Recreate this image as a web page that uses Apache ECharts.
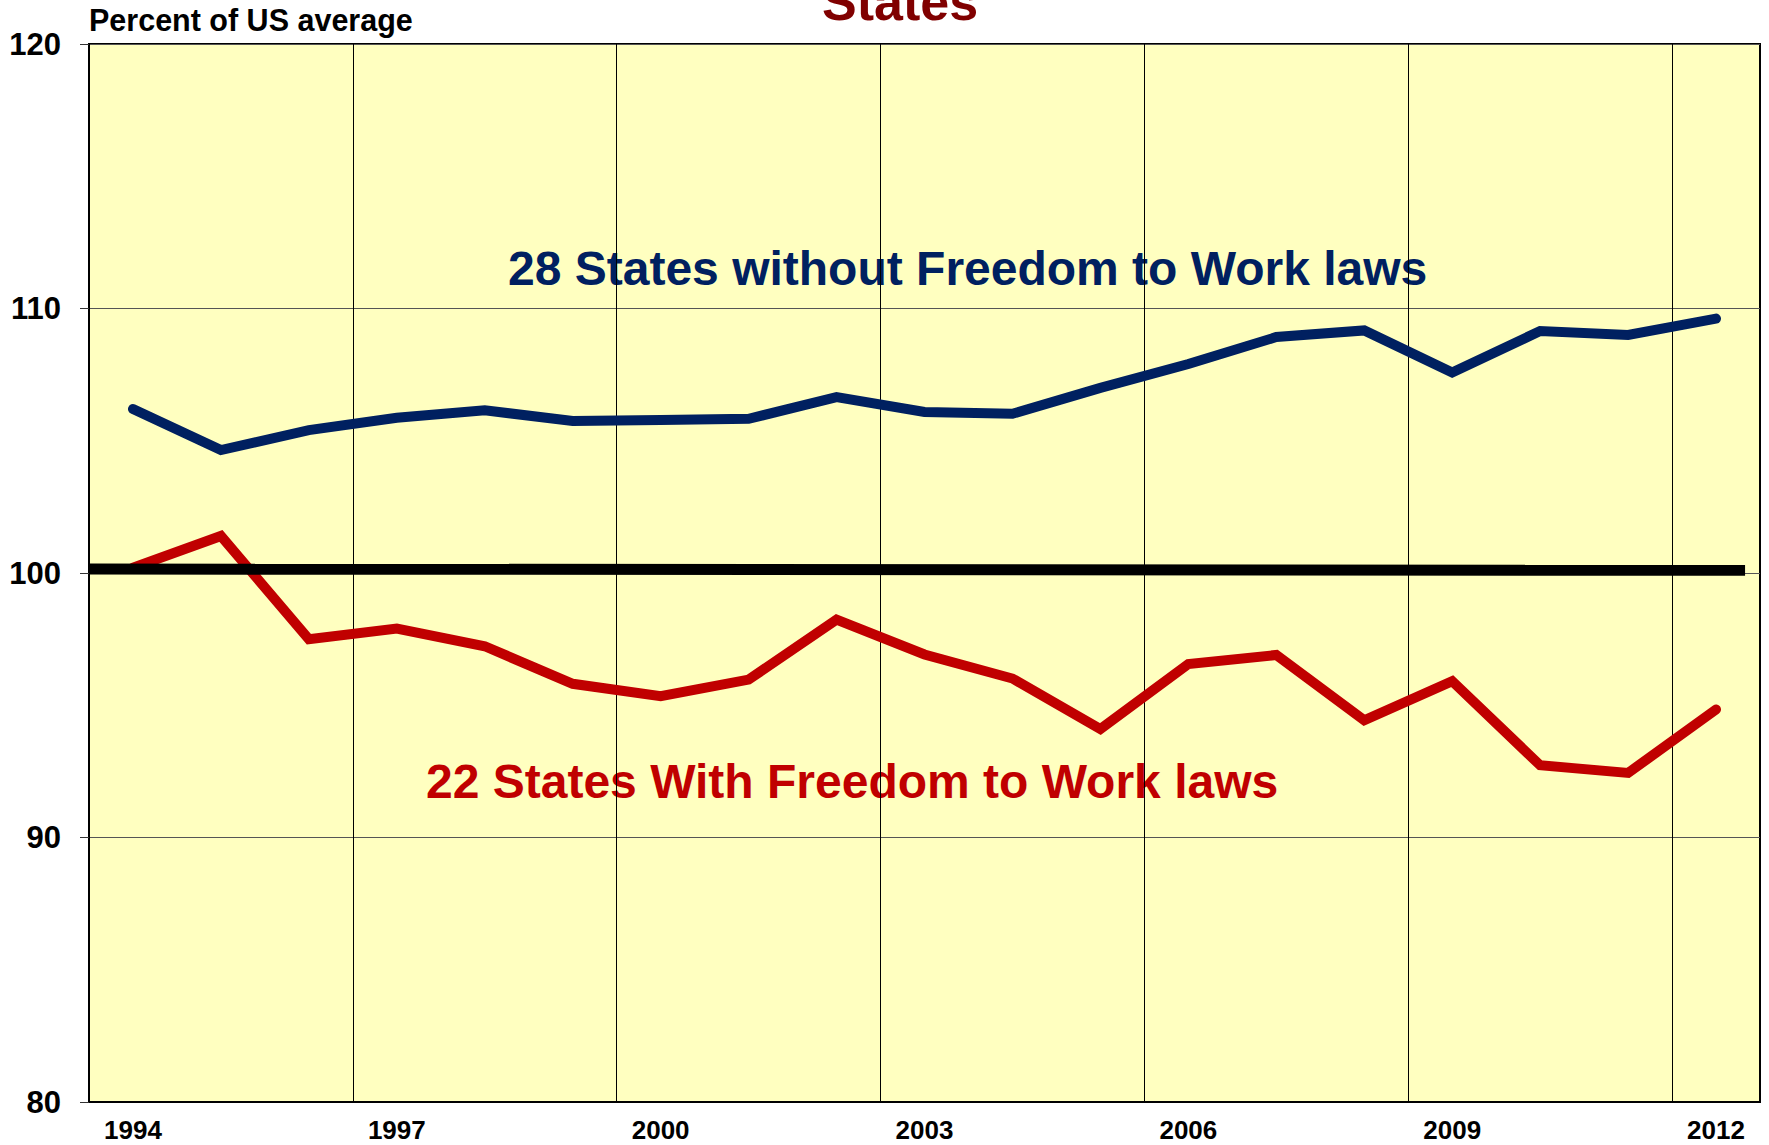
<!DOCTYPE html>
<html>
<head>
<meta charset="utf-8">
<title>Freedom to Work states</title>
<script src="https://cdn.jsdelivr.net/npm/echarts@6/dist/echarts.min.js"></script>
<style>
  html, body { margin: 0; padding: 0; background: #fff; }
  #chart { width: 1769px; height: 1145px; }
</style>
</head>
<body>
<div id="chart"></div>
<script>
// percent of US average, per year
const years = ['1994', '1995', '1996', '1997', '1998', '1999', '2000', '2001', '2002', '2003',
  '2004', '2005', '2006', '2007', '2008', '2009', '2010', '2011', '2012']
const withoutFtw = [106.2, 104.65, 105.4, 105.87, 106.15, 105.75, 105.78, 105.83, 106.65, 106.09,
  106.02, 107.0, 107.9, 108.92, 109.17, 107.58, 109.15, 109.0, 109.62]
const withFtw = [100.2, 101.4, 97.5, 97.9, 97.23, 95.81, 95.34, 95.97, 98.24, 96.92,
  96.01, 94.1, 96.56, 96.9, 94.43, 95.91, 92.73, 92.44, 94.84]
// the US average reference line (drawn by hand in the original, slightly off level)
const usAvgYears = [1993.5, 2012.33]
const usAvgValues = [100.15, 100.1]
const yTicks = [80, 90, 100, 110, 120]

const font = 'Arial, "Liberation Sans", sans-serif'
const chart = echarts.init(document.getElementById('chart'), null, { renderer: 'svg' })

const option = {
  backgroundColor: '#fff',
  animation: false,
  grid: {
    left: 89, right: 9, top: 44, bottom: 43,
    show: true,
    backgroundColor: '#FFFFC0',
    borderColor: '#000',
    borderWidth: 2
  },
  xAxis: [{
    type: 'category',
    data: years,
    boundaryGap: true,
    axisLine: { lineStyle: { color: '#000', width: 2 } },
    axisTick: { show: false },
    axisLabel: {
      interval: 2,
      margin: 15,
      fontFamily: font,
      fontWeight: 'bold',
      fontSize: 26,
      color: '#000'
    },
    splitLine: { show: true, interval: 2, lineStyle: { color: '#000', width: 1 } }
  }, {
    type: 'value',
    min: 1993.5,
    max: 2012.5,
    show: false
  }],
  yAxis: {
    type: 'value',
    min: yTicks[0],
    max: yTicks[yTicks.length - 1],
    interval: 10,
    axisLine: { show: true, lineStyle: { color: '#000', width: 2 } },
    axisTick: { show: true, length: 9, lineStyle: { color: '#333' } },
    axisLabel: {
      margin: 28,
      fontFamily: font,
      fontWeight: 'bold',
      fontSize: 31,
      color: '#000'
    },
    splitLine: { lineStyle: { color: '#555', width: 1 } }
  },
  graphic: [
    {
      type: 'text', left: 822, top: -24,
      style: { text: 'States', font: 'bold 52px ' + font, fill: '#800000' }
    },
    {
      type: 'text', left: 89, top: 4,
      style: { text: 'Percent of US average', font: 'bold 30.5px ' + font, fill: '#000' }
    },
    {
      type: 'text', left: 508, top: 244,
      style: { text: '28 States without Freedom to Work laws', font: 'bold 48px ' + font, fill: '#002060' }
    },
    {
      type: 'text', left: 426, top: 757,
      style: { text: '22 States With Freedom to Work laws', font: 'bold 48px ' + font, fill: '#C00000' }
    }
  ],
  series: [
    {
      name: '22 States With Freedom to Work laws',
      type: 'line',
      data: withFtw,
      symbol: 'none',
      z: 2,
      lineStyle: { color: '#C00000', width: 10, cap: 'round', join: 'miter' }
    },
    {
      name: '28 States without Freedom to Work laws',
      type: 'line',
      data: withoutFtw,
      symbol: 'none',
      z: 2,
      lineStyle: { color: '#002060', width: 10, cap: 'round', join: 'miter' }
    },
    {
      name: 'US average',
      type: 'line',
      xAxisIndex: 1,
      data: usAvgYears.map((y, i) => [y, usAvgValues[i]]),
      symbol: 'none',
      clip: false,
      z: 3,
      lineStyle: { color: '#000', width: 11, cap: 'butt' }
    }
  ]
}

chart.setOption(option)
</script>
</body>
</html>
